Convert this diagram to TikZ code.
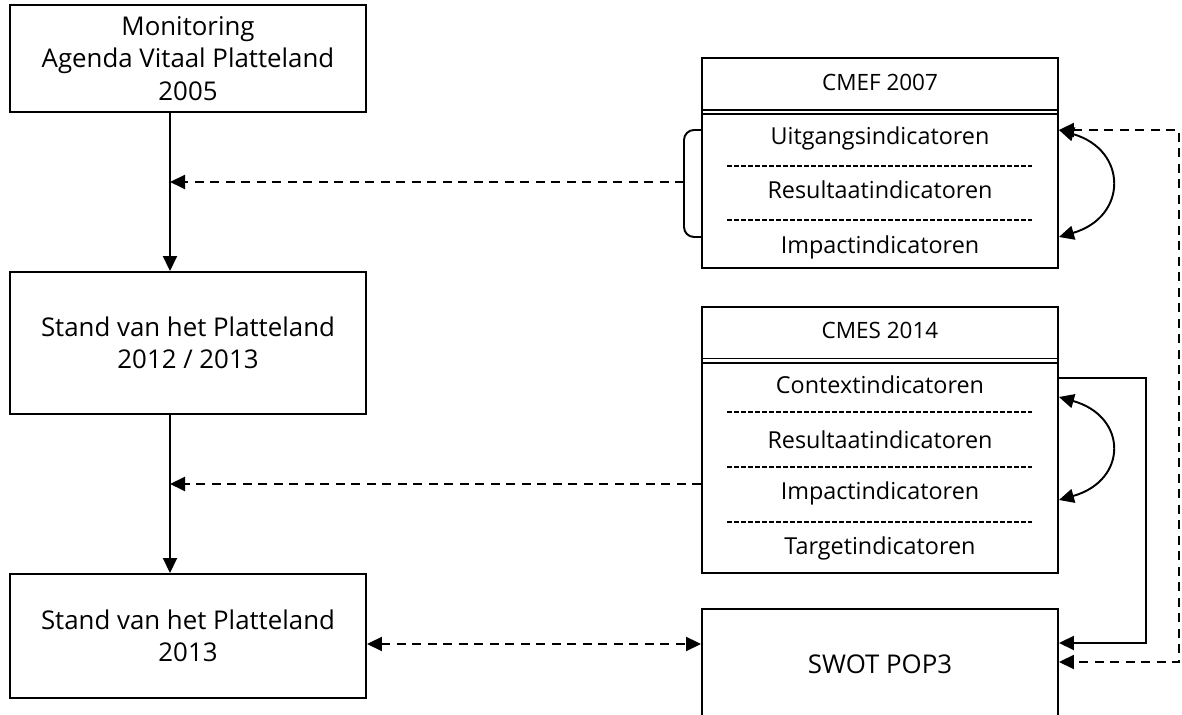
\documentclass[tikz,border=0pt]{standalone}
\usepackage{fontspec}
\setmainfont{Open Sans}
\usetikzlibrary{arrows.meta}
\tikzset{
  box/.style = {draw, line width = 1.1pt, align = center, font = \fontsize{14.7}{18.4}\selectfont},
  item/.style = {font = \fontsize{13.3}{16}\selectfont},
  head/.style = {font = \fontsize{12.8}{15}\selectfont},
  arr/.style = {line width = 1.1pt, -{Triangle[length=0.3cm,width=0.28cm]}},
  arrs/.style = {line width = 1.1pt, {Triangle[length=0.3cm,width=0.28cm]}-{Triangle[length=0.3cm,width=0.28cm]}},
  dasharr/.style = {arr, dash pattern = on 0.18cm off 0.13cm},
  dasharrs/.style = {arrs, dash pattern = on 0.18cm off 0.13cm},
  hyph/.style = {line width = 0.9pt, dash pattern = on 0.1cm off 0.04cm}
}
\begin{document}
\begin{tikzpicture}
\useasboundingbox (0,0) rectangle (23.64,14.3);
%Stand van het Platteland
\node[box, minimum width = 7.12cm, minimum height = 2.14cm] (mon) at (3.76,13.13) {Monitoring\\Agenda Vitaal Platteland\\2005};
\node[box, minimum width = 7.12cm, minimum height = 2.84cm] (stand1) at (3.76,7.44) {Stand van het Platteland\\2012 / 2013};
\node[box, minimum width = 7.12cm, minimum height = 2.48cm] (stand2) at (3.76,1.58) {Stand van het Platteland\\2013};
\coordinate (spine) at (3.4,0);
\draw[arr] (mon.south -| spine) -- (stand1.north -| spine);
\draw[arr] (stand1.south -| spine) -- (stand2.north -| spine);
%CMEF 2007
\node[box, minimum width = 7.12cm, minimum height = 4.2cm] (cmef) at (17.6,11.04) {};
\node[head] (cmeft) at (17.6,12.66) {CMEF 2007};
\draw[line width = 1.1pt] (14.04,12.1) -- (21.16,12.1);
\draw[line width = 1.1pt] (14.04,12.02) -- (21.16,12.02);
\node[item] (uit) at (17.6,11.54) {Uitgangsindicatoren};
\draw[hyph] (14.54,10.98) -- (20.64,10.98);
\node[item] (res1) at (17.6,10.5) {Resultaatindicatoren};
\draw[hyph] (14.54,9.9) -- (20.64,9.9);
\node[item] (imp1) at (17.6,9.36) {Impactindicatoren};
\draw[line width = 1.1pt, rounded corners = 0.2cm] (14.04,11.7) -| (13.68,9.56) -- (14.04,9.56);
\coordinate (brk) at (13.68,10.66);
\draw[dasharr] (brk) -- (brk -| spine);
\draw[arrs] (cmef.east |- 0,11.7) .. controls (22.56,11.3) and (22.56,9.96) .. (cmef.east |- 0,9.56);
%CMES 2014
\node[box, minimum width = 7.12cm, minimum height = 5.32cm] (cmes) at (17.6,5.5) {};
\node[head] (cmest) at (17.6,7.7) {CMES 2014};
\draw[line width = 1.1pt] (14.04,7.13) -- (21.16,7.13);
\draw[line width = 1.1pt] (14.04,7.04) -- (21.16,7.04);
\node[item] (con) at (17.6,6.6) {Contextindicatoren};
\draw[hyph] (14.54,6.06) -- (20.64,6.06);
\node[item] (res2) at (17.6,5.5) {Resultaatindicatoren};
\draw[hyph] (14.54,4.96) -- (20.64,4.96);
\node[item] (imp2) at (17.6,4.44) {Impactindicatoren};
\draw[hyph] (14.54,3.86) -- (20.64,3.86);
\node[item] (tar) at (17.6,3.34) {Targetindicatoren};
\draw[dasharr] (cmes.west |- 0,4.62) -- (spine |- 0,4.62);
\draw[arrs] (cmes.east |- 0,6.36) .. controls (22.56,5.97) and (22.56,4.69) .. (cmes.east |- 0,4.3);
%SWOT POP3
\node[box, minimum width = 7.12cm, minimum height = 2.2cm] (swot) at (17.6,1.02) {SWOT POP3};
\draw[dasharrs] (stand2.east |- 0,1.42) -- (swot.west |- 0,1.42);
\draw[arr] (cmes.east |- 0,6.74) -- (22.92,6.74) |- (swot.east |- 0,1.44);
\draw[dasharrs] (cmef.east |- 0,11.7) -- (23.58,11.7) |- (swot.east |- 0,1.06);
\end{tikzpicture}
\end{document}
